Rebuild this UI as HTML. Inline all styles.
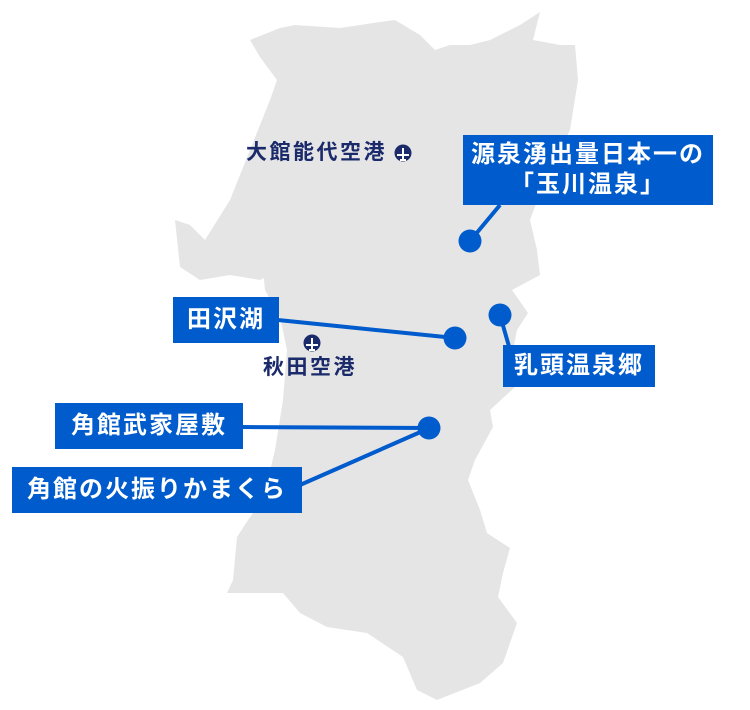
<!DOCTYPE html>
<html><head><meta charset="utf-8"><style>
html,body{margin:0;padding:0;background:#fff;}
.wrap{position:relative;width:750px;height:710px;overflow:hidden;font-family:"Liberation Sans","Noto Sans CJK JP",sans-serif;}
.box{position:absolute;background:#005bcc;color:#fff;font-weight:bold;font-size:24px;display:flex;align-items:center;justify-content:center;text-align:center;line-height:30px;letter-spacing:2px;white-space:nowrap;}
.ap{position:absolute;color:#1b2a6b;font-size:21px;font-weight:bold;white-space:nowrap;letter-spacing:2.5px;line-height:24px;}
</style></head><body><div class="wrap">
<svg width="750" height="710" style="position:absolute;left:0;top:0">
<path fill="#e5e5e5" d="M250,40 L280,28 L295,25 L340,28 L380,22 L395,20 L420,35 L435,50 L450,45 L470,45 L490,40 L520,25 L540,12 L533,40 L560,45 L575,45 L578,80 L570,130 L545,180 L530,220 L537,250 L540,275 L512,290 L528,313 L517,330 L512,355 L515,387 L490,410 L493,427 L475,460 L468,480 L480,510 L487,533 L510,548 L503,573 L498,597 L517,623 L503,663 L480,683 L437,700 L417,690 L403,657 L367,633 L327,627 L300,613 L283,593 L227,593 L233,580 L237,537 L250,517 L263,500 L275,450 L283,400 L287,350 L280,317 L265,290 L262,260 L275,255 L270,275 L260,280 L230,275 L200,280 L180,267 L175,220 L190,225 L205,240 L230,200 L250,150 L270,100 L277,80 L260,57 Z"/>
<g stroke="#005bcc" stroke-width="4" fill="none">
<line x1="470" y1="241" x2="500" y2="205"/>
<line x1="278" y1="320" x2="455" y2="338"/>
<line x1="500" y1="315" x2="510" y2="350"/>
<line x1="241" y1="427" x2="429" y2="428"/>
<line x1="300" y1="485" x2="425" y2="430"/>
</g>
<g fill="#005bcc">
<circle cx="470" cy="241" r="11.5"/>
<circle cx="455" cy="338" r="11.5"/>
<circle cx="500" cy="315" r="11.5"/>
<circle cx="429" cy="428" r="11.5"/>
</g>
<g fill="#1b2a6b">
<circle cx="403" cy="153" r="8.5"/>
<circle cx="312" cy="343" r="8.5"/>
</g>
<g stroke="#fff" stroke-width="2" fill="none">
<path d="M397,155 H409 M403,148 V160 M400,160 H406"/>
<path d="M306,345 H318 M312,338 V350 M309,350 H315"/>
</g>
</svg>
<div class="ap" style="left:246px;top:141px;">大館能代空港</div>
<div class="ap" style="left:263px;top:356px;">秋田空港</div>
<div class="box" style="left:463px;top:135px;width:250px;height:70px;">源泉湧出量日本一の<br>「玉川温泉」</div>
<div class="box" style="left:173px;top:297px;width:106px;height:46px;">田沢湖</div>
<div class="box" style="left:503px;top:345px;width:152px;height:42px;">乳頭温泉郷</div>
<div class="box" style="left:55px;top:403px;width:188px;height:46px;">角館武家屋敷</div>
<div class="box" style="left:12px;top:467px;width:290px;height:46px;">角館の火振りかまくら</div>
</div></body></html>
